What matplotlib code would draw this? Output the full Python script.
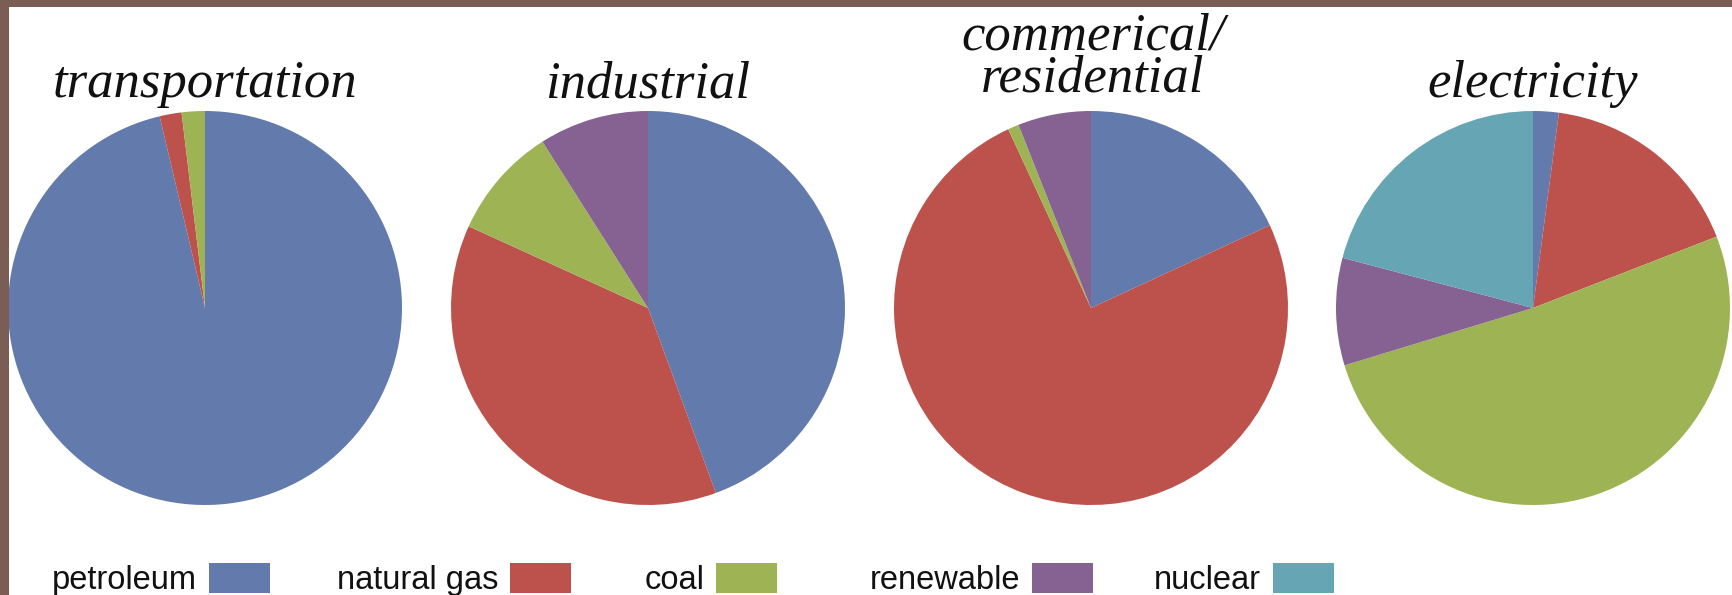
import matplotlib
matplotlib.use('Agg')
import matplotlib.pyplot as plt
from matplotlib.patches import Rectangle

W, H = 1732, 595

sources = ['petroleum', 'natural gas', 'coal', 'renewable', 'nuclear']
colors = ['#637AAC', '#BD524C', '#9EB454', '#866292', '#66A5B4']

# share of each source per sector, in source order
transportation = [96.3, 1.8, 1.9, 0, 0]
industrial = [44.4, 37.4, 9.2, 9.0, 0]
commercial = [18.1, 75.0, 0.9, 6.0, 0]
electricity = [2.1, 17.0, 51.2, 8.8, 20.9]

sectors = [transportation, industrial, commercial, electricity]
titles = ['transportation', 'industrial', 'commerical/\nresidential', 'electricity']

centers_x = [205, 648, 1091, 1533]
center_y = 308
radius = 197

fig = plt.figure(figsize=(W / 100, H / 100), dpi=100)
ax = fig.add_axes([0, 0, 1, 1])

for vals, cx in zip(sectors, centers_x):
    ax.pie(vals, colors=colors, startangle=90, counterclock=False,
           center=(cx, H - center_y), radius=radius,
           wedgeprops=dict(linewidth=0))

title_font = dict(family='Liberation Serif', style='italic', size=38, color='#111111')
for title, cx in zip(titles, centers_x):
    if '\n' in title:
        # two-line title, lines packed tight; baseline is the last line's
        ax.text(cx + 2, H - 92, title, ha='center', va='baseline',
                multialignment='center', linespacing=0.86, **title_font)
    else:
        ax.text(cx, H - 97, title, ha='center', va='baseline', **title_font)

# legend: label followed by a colour swatch
swatch_x = [209, 510, 716, 1032, 1273]
for name, col, sx in zip(sources, colors, swatch_x):
    ax.add_patch(Rectangle((sx, H - 593), 61, 30, facecolor=col, edgecolor='none'))
    ax.text(sx - 12, H - 589, name, ha='right', va='baseline',
            family='Liberation Sans', size=23.5, color='#111111')

ax.set_xlim(0, W)
ax.set_ylim(0, H)
ax.set_aspect('auto')
ax.axis('off')

# brown frame along top and left edges
fig.patches.append(Rectangle((0, 1 - 7 / H), 1, 7 / H, transform=fig.transFigure,
                             facecolor='#7A5E55', edgecolor='none'))
fig.patches.append(Rectangle((0, 0), 9 / W, 1, transform=fig.transFigure,
                             facecolor='#7A5E55', edgecolor='none'))

fig.savefig('out.png', dpi=100)
